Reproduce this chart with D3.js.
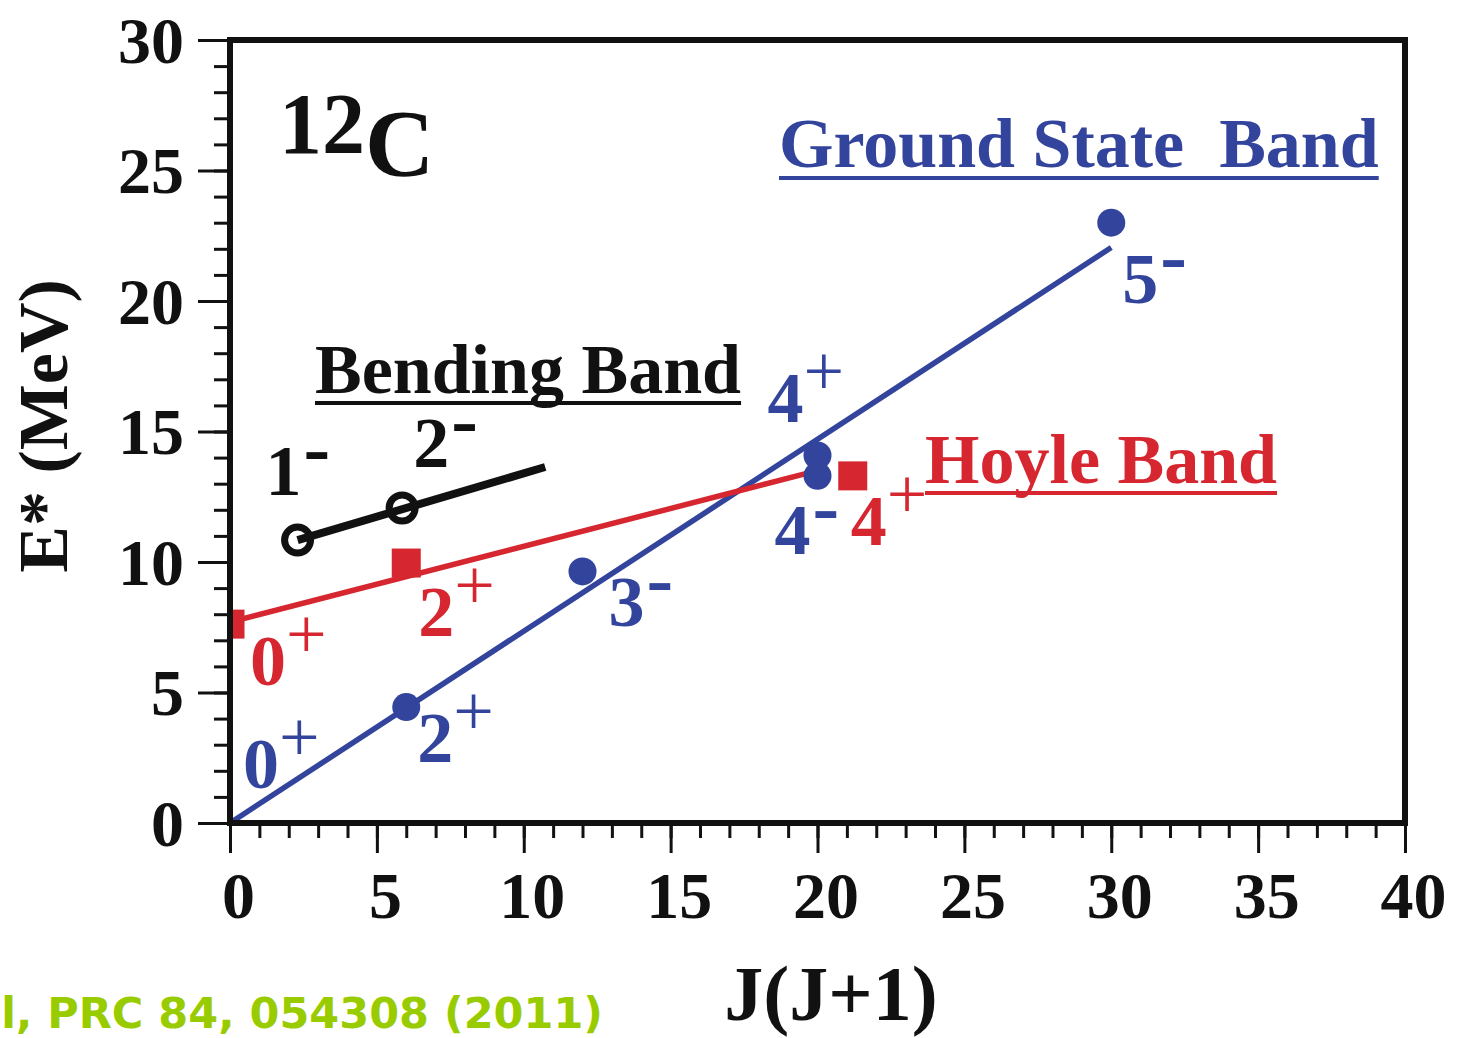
<!DOCTYPE html>
<html>
<head>
<meta charset="utf-8">
<script src="https://cdn.jsdelivr.net/npm/d3@7"></script>
<style>
  html, body { margin: 0; padding: 0; background: #fff; overflow: hidden; }
  svg { display: block; }
</style>
</head>
<body>
<svg id="chart" width="1464" height="1038"></svg>
<script>
// ---------------- data ----------------
// Ground state band (blue circles): x = J(J+1), y = E* (MeV)
const groundJJ = [0, 6, 12, 20, 20, 30];
const groundE = [0, 4.44, 9.64, 14.08, 13.3, 23.0];
const groundSpin = ["0", "2", "3", "4", "4", "5"];
const groundParity = ["+", "+", "-", "+", "-", "-"];
const groundFitJJ = [0, 30];
const groundFitE = [0, 22.05];

// Hoyle band (red squares)
const hoyleJJ = [0, 6, 21.2];
const hoyleE = [7.62, 9.96, 13.3];
const hoyleSpin = ["0", "2", "4"];
const hoyleParity = ["+", "+", "+"];
const hoyleFitJJ = [0, 20];
const hoyleFitE = [7.7, 13.5];

// Bending band (black open circles)
const bendJJ = [2.3, 5.86];
const bendE = [10.84, 12.07];
const bendSpin = ["1", "2"];
const bendParity = ["-", "-"];
const bendFitJJ = [2.3, 10.73];
const bendFitE = [10.84, 13.64];

const xMajorTicks = [0, 5, 10, 15, 20, 25, 30, 35, 40];
const yMajorTicks = [0, 5, 10, 15, 20, 25, 30];

const bandNames = ["Ground State  Band", "Bending Band", "Hoyle Band"];
const nucleusMass = "12";
const nucleusSymbol = "C";
const xTitle = "J(J+1)";
const yTitle = "E* (MeV)";
const citation = "et al, PRC 84, 054308 (2011)";

// ---------------- styles / label offsets (pixels) ----------------
const BLUE = "#33449c", RED = "#d6262f", BLACK = "#111", GREEN = "#99cc00";
const SERIF = "'Liberation Serif', 'Times New Roman', serif";
const groundLabelDx = [13, 11, 26, -50, -43, 11];
const groundLabelDy = [-35, 55, 55, -34, 78, 80];
const hoyleLabelDx = [20, 12, -2];
const hoyleLabelDy = [61, 73, 69];
const bendLabelDx = [-32, 11];
const bendLabelDy = [-45, -41];

// ---------------- chart ----------------
const svg = d3.select("#chart");
const pL = 230, pR = 1405, pT = 40, pB = 823;
const x = d3.scaleLinear().domain([0, 40]).range([pL, pR]);
const y = d3.scaleLinear().domain([0, 30]).range([pB, pT]);

// minor + major ticks
const xMinor = d3.axisBottom(x).tickValues(d3.range(0, 41, 1)).tickSize(15).tickFormat("");
const xMajor = d3.axisBottom(x).tickValues(xMajorTicks).tickSize(30).tickFormat(d3.format("d"));
const yMinor = d3.axisLeft(y).tickValues(d3.range(0, 31, 1)).tickSize(16).tickFormat("");
const yMajor = d3.axisLeft(y).tickValues(yMajorTicks).tickSize(32).tickFormat(d3.format("d"));

function styleAxis(g) {
  g.select(".domain").remove();
  g.selectAll(".tick line").attr("stroke", BLACK).attr("stroke-width", 3);
}
svg.append("g").attr("transform", `translate(0,${pB})`).call(xMinor).call(styleAxis);
const gx = svg.append("g").attr("transform", `translate(0,${pB})`).call(xMajor).call(styleAxis);
gx.selectAll(".tick text")
  .attr("y", 95).attr("dy", 0).attr("dx", 8)
  .attr("fill", BLACK)
  .style("font-family", SERIF).style("font-weight", "bold").style("font-size", "66px");
svg.append("g").attr("transform", `translate(${pL},0)`).call(yMinor).call(styleAxis);
const gy = svg.append("g").attr("transform", `translate(${pL},0)`).call(yMajor).call(styleAxis);
gy.selectAll(".tick text")
  .attr("x", -46).attr("dy", "0.34em")
  .attr("fill", BLACK)
  .style("font-family", SERIF).style("font-weight", "bold").style("font-size", "66px");

// clip to plot area
svg.append("defs").append("clipPath").attr("id", "plotclip")
  .append("rect").attr("x", pL).attr("y", pT).attr("width", pR - pL).attr("height", pB - pT);
const plot = svg.append("g").attr("clip-path", "url(#plotclip)");

const line = d3.line().x(d => x(d[0])).y(d => y(d[1]));
const zip = (a, b) => a.map((v, i) => [v, b[i]]);

// fit lines
plot.append("path").datum(zip(groundFitJJ, groundFitE)).attr("d", line)
  .attr("fill", "none").attr("stroke", BLUE).attr("stroke-width", 5.5);
plot.append("path").datum(zip(hoyleFitJJ, hoyleFitE)).attr("d", line)
  .attr("fill", "none").attr("stroke", RED).attr("stroke-width", 5.5);

// ground state dots (origin dot hidden by axis corner)
plot.selectAll("circle.gs").data(zip(groundJJ, groundE).filter(d => d[0] > 0)).join("circle")
  .attr("class", "gs").attr("cx", d => x(d[0])).attr("cy", d => y(d[1])).attr("r", 14).attr("fill", BLUE);

// hoyle squares
const sq = 29;
plot.selectAll("rect.hb").data(zip(hoyleJJ, hoyleE)).join("rect")
  .attr("class", "hb").attr("x", d => x(d[0]) - sq / 2).attr("y", d => y(d[1]) - sq / 2)
  .attr("width", sq).attr("height", sq).attr("fill", RED);

// bending band
plot.selectAll("circle.bb").data(zip(bendJJ, bendE)).join("circle")
  .attr("class", "bb").attr("cx", d => x(d[0])).attr("cy", d => y(d[1])).attr("r", 13)
  .attr("fill", "#fff").attr("stroke", BLACK).attr("stroke-width", 7);
plot.append("path").datum(zip(bendFitJJ, bendFitE)).attr("d", line)
  .attr("fill", "none").attr("stroke", BLACK).attr("stroke-width", 8);

// frame
svg.append("rect").attr("x", pL).attr("y", pT).attr("width", pR - pL).attr("height", pB - pT)
  .attr("fill", "none").attr("stroke", BLACK).attr("stroke-width", 6);

// state labels
function stateLabels(jj, e, spin, parity, dx, dy, color) {
  jj.forEach((j, i) => {
    const t = svg.append("text")
      .attr("x", x(j) + dx[i]).attr("y", y(e[i]) + dy[i])
      .attr("fill", color)
      .style("font-family", SERIF).style("font-weight", "bold").style("font-size", "72px");
    t.append("tspan").text(spin[i]);
    if (parity[i] === "+") {
      t.append("tspan").attr("dy", -27).style("font-weight", "normal").text("+");
    } else {
      t.append("tspan").attr("dy", -20).attr("dx", 2).style("font-size", "80px").text("-");
    }
  });
}
stateLabels(groundJJ, groundE, groundSpin, groundParity, groundLabelDx, groundLabelDy, BLUE);
stateLabels(hoyleJJ, hoyleE, hoyleSpin, hoyleParity, hoyleLabelDx, hoyleLabelDy, RED);
stateLabels(bendJJ, bendE, bendSpin, bendParity, bendLabelDx, bendLabelDy, BLACK);

// band titles with underline
function bandTitle(txt, tx, ty, uy, color) {
  const t = svg.append("text").attr("x", tx).attr("y", ty).attr("fill", color)
    .style("font-family", SERIF).style("font-weight", "bold").style("font-size", "70px")
    .style("white-space", "pre").attr("xml:space", "preserve").text(txt);
  const w = t.node().getComputedTextLength();
  svg.append("line").attr("x1", tx).attr("x2", tx + w).attr("y1", uy).attr("y2", uy)
    .attr("stroke", color).attr("stroke-width", 4);
}
bandTitle(bandNames[0], 779, 167, 178, BLUE);
bandTitle(bandNames[1], 315, 393, 403, BLACK);
bandTitle(bandNames[2], 925, 483, 493, RED);

// nucleus label
const nuc = svg.append("text").attr("x", 279).attr("y", 153).attr("fill", BLACK)
  .style("font-family", SERIF).style("font-weight", "bold");
nuc.append("tspan").style("font-size", "86px").text(nucleusMass);
nuc.append("tspan").attr("dy", 23).style("font-size", "96px").text(nucleusSymbol);

// axis titles
svg.append("text").attr("x", 831).attr("y", 1020).attr("text-anchor", "middle").attr("fill", BLACK)
  .style("font-family", SERIF).style("font-weight", "bold").style("font-size", "78px").text(xTitle);
svg.append("text").attr("transform", "translate(67,426) rotate(-90)").attr("text-anchor", "middle")
  .attr("fill", BLACK)
  .style("font-family", SERIF).style("font-weight", "bold").style("font-size", "70px").text(yTitle);

// citation (left part runs off the page edge, as in the reference)
svg.append("text").attr("x", 603).attr("y", 1028).attr("text-anchor", "end").attr("fill", GREEN)
  .style("font-family", "'DejaVu Sans', sans-serif").style("font-weight", "bold").style("font-size", "43px")
  .text(citation);
</script>
</body>
</html>
